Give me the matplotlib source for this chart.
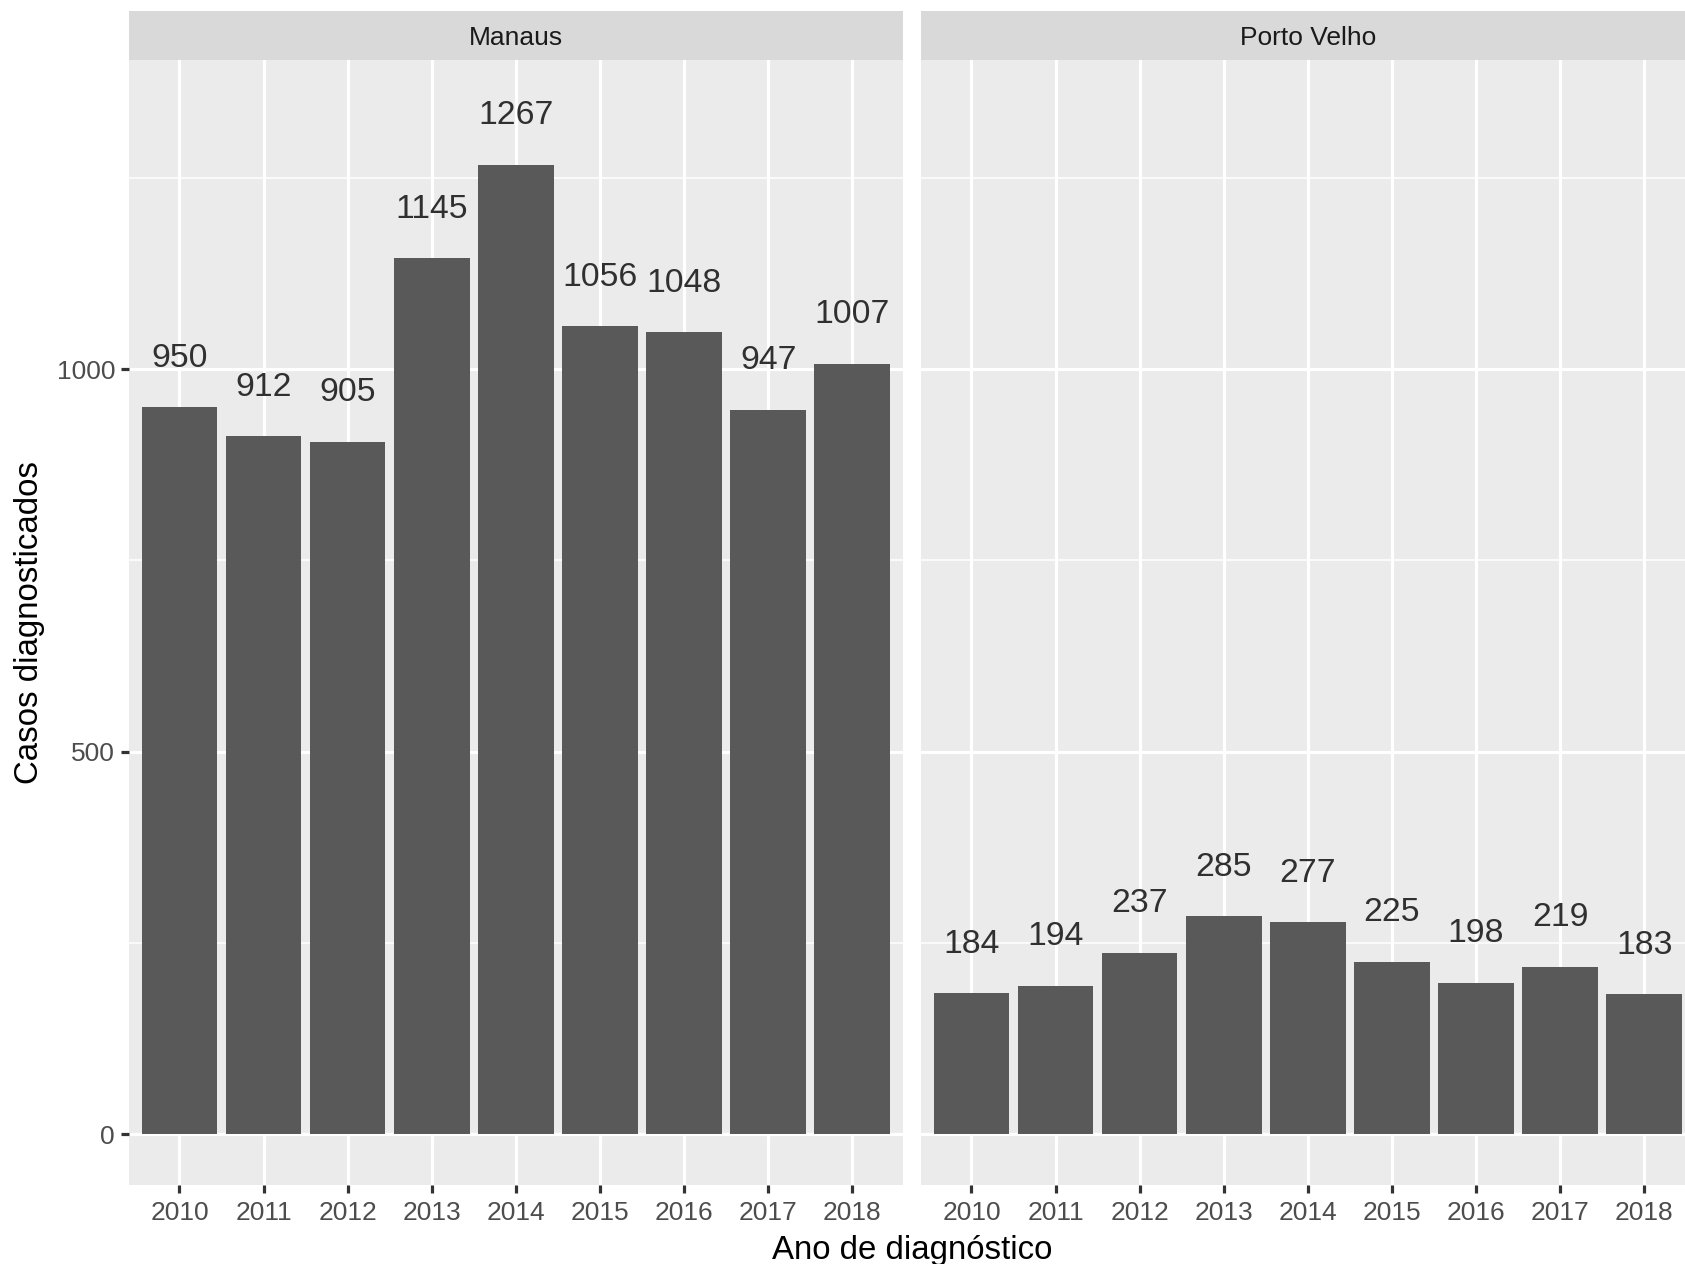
import matplotlib
matplotlib.use("Agg")
import matplotlib.pyplot as plt
from matplotlib.ticker import FixedLocator

# Diagnosed cases per year, by city
years = ["2010", "2011", "2012", "2013", "2014", "2015", "2016", "2017", "2018"]
manaus = [950, 912, 905, 1145, 1267, 1056, 1048, 947, 1007]
porto_velho = [184, 194, 237, 285, 277, 225, 198, 219, 183]
cities = ["Manaus", "Porto Velho"]
label_offset = 70

W, H = 1685, 1264
DPI = 100
plt.rcParams["font.family"] = ["Liberation Sans", "DejaVu Sans"]

fig = plt.figure(figsize=(W / DPI, H / DPI), dpi=DPI)
fig.patch.set_facecolor("white")

PANEL_BG = "#EBEBEB"
STRIP_BG = "#D9D9D9"
BAR = "#595959"
MAJOR_LW = 2.3
MINOR_LW = 1.15

panel_top, panel_bottom = 60.2, 1185.3
strip_top = 10.7
panel_w = 773.7
lefts = [129.0, 921.0]

all_vals = manaus + porto_velho
ymax_data = max(all_vals) + label_offset
pad = 0.05 * ymax_data
ylim = (-pad, ymax_data + pad)


def fx(px):
    return px / W


def fy(py):
    return 1 - py / H


for k, (city, vals) in enumerate(zip(cities, [manaus, porto_velho])):
    left = lefts[k]
    ax = fig.add_axes([fx(left), fy(panel_bottom), panel_w / W,
                       (panel_bottom - panel_top) / H])
    ax.set_facecolor(PANEL_BG)
    for s in ax.spines.values():
        s.set_visible(False)
    xs = list(range(len(years)))
    ax.set_xlim(-0.6, len(years) - 1 + 0.6)
    ax.set_ylim(*ylim)

    # grid
    ax.yaxis.set_major_locator(FixedLocator([0, 500, 1000]))
    ax.yaxis.set_minor_locator(FixedLocator([250, 750, 1250]))
    ax.set_xticks(xs)
    ax.set_xticklabels(years)
    ax.grid(which="major", color="white", linewidth=MAJOR_LW)
    ax.grid(which="minor", axis="y", color="white", linewidth=MINOR_LW)
    ax.set_axisbelow(True)

    ax.bar(xs, vals, width=0.9, color=BAR, zorder=2)
    for x, v in zip(xs, vals):
        ax.annotate(str(v), (x, v + label_offset), xytext=(0, -3.2),
                    textcoords="offset points", ha="center", va="center",
                    fontsize=24.3, color="#303030", zorder=3,
                    annotation_clip=False)

    ax.tick_params(axis="x", which="major", length=6, width=MAJOR_LW,
                   color="#333333", labelsize=19, labelcolor="#4D4D4D", pad=5.5)
    ax.tick_params(axis="y", which="minor", length=0)
    if k == 0:
        ax.set_yticklabels(["0", "500", "1000"])
        ax.tick_params(axis="y", which="major", length=6, width=MAJOR_LW,
                       color="#333333", labelsize=19, labelcolor="#4D4D4D", pad=4)
    else:
        ax.tick_params(axis="y", which="major", length=0, labelleft=False)

    # strip header
    sax = fig.add_axes([fx(left), fy(panel_top), panel_w / W,
                        (panel_top - strip_top) / H])
    sax.set_facecolor(STRIP_BG)
    sax.set_xticks([])
    sax.set_yticks([])
    for s in sax.spines.values():
        s.set_visible(False)
    sax.text(0.5, 0.45, city, ha="center", va="center", fontsize=19,
             color="#1A1A1A", transform=sax.transAxes)

fig.text(fx((lefts[0] + lefts[1] + panel_w) / 2), fy(1250),
         "Ano de diagnóstico", ha="center", va="center", fontsize=23.8,
         color="black")
fig.text(fx(30), fy((panel_top + panel_bottom) / 2), "Casos diagnosticados",
         ha="center", va="center", rotation=90, fontsize=23.8, color="black")

fig.savefig("out.png", dpi=DPI)
